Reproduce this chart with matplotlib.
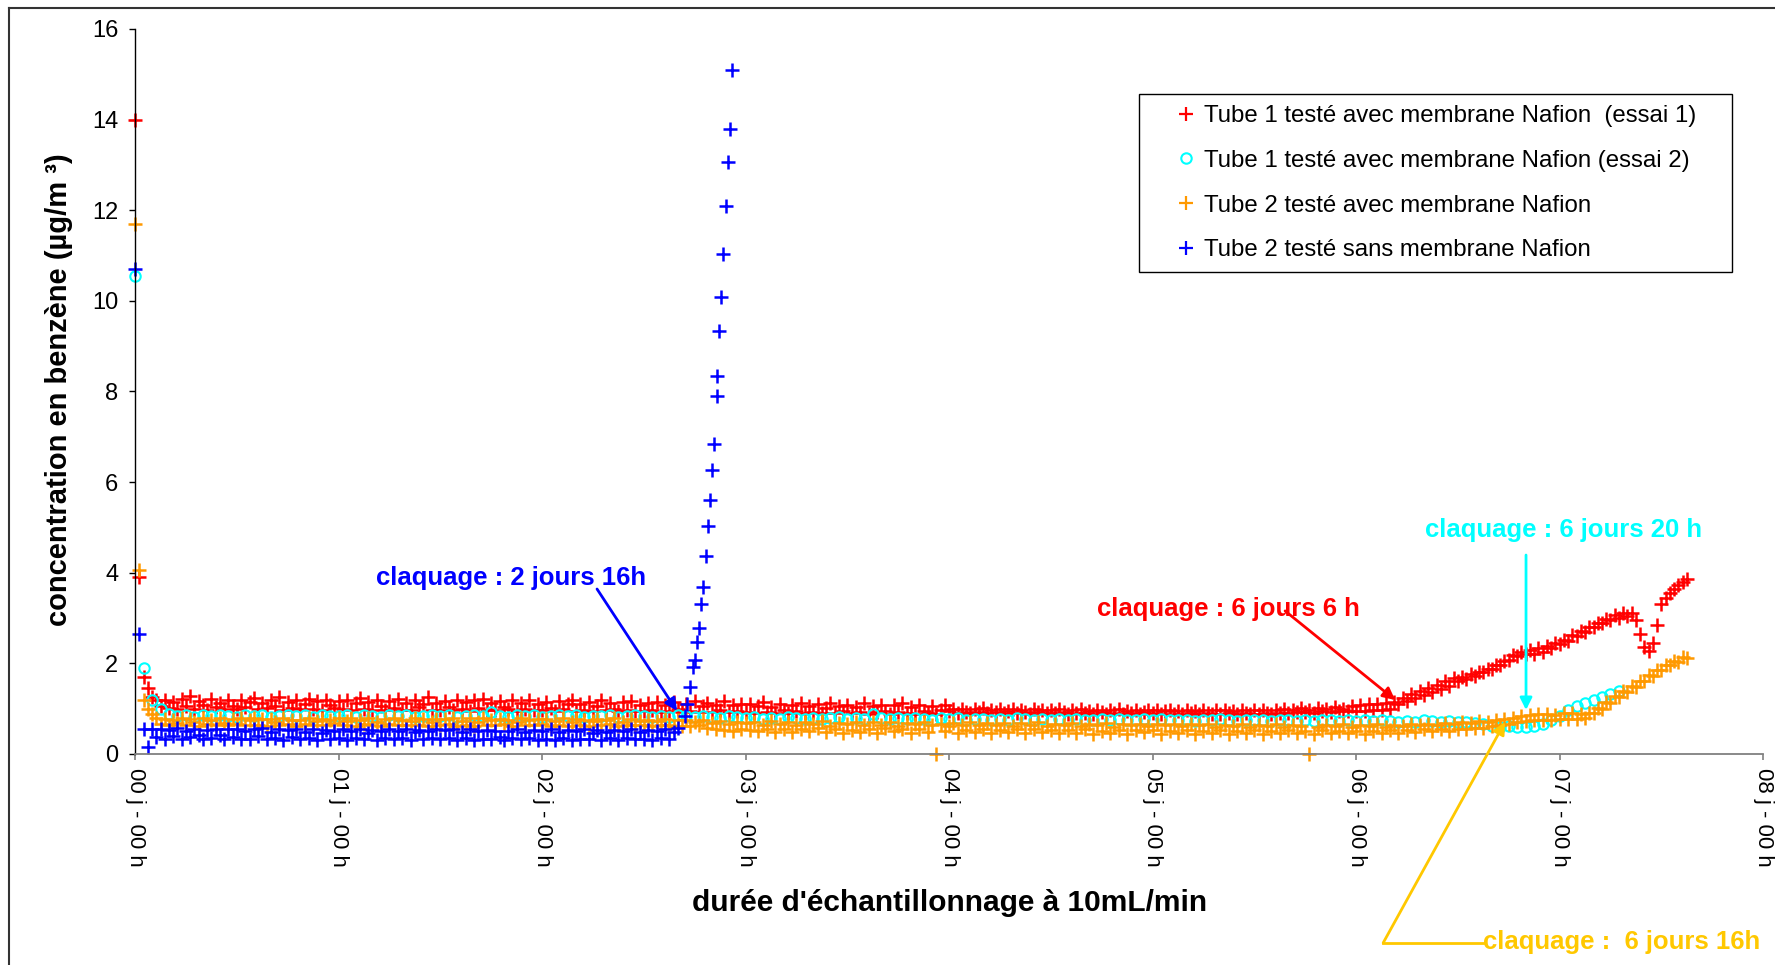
import numpy as np
import matplotlib
matplotlib.use("Agg")
import matplotlib.pyplot as plt
from matplotlib.lines import Line2D
from matplotlib.patches import Rectangle

plt.rcParams['font.family'] = ['Liberation Sans', 'DejaVu Sans']

# ---------------- data (concentration in µg/m3) ----------------
sample_step_h = 0.5        # red, orange and blue: one sample every 30 min
cyan_step_h = 1.0          # cyan (essai 2): one sample every hour

red_conc = [
    14.0, 3.9, 1.7, 1.45, 1.25, 1.18, 1.05, 1.2, 1.02, 1.15, 0.99, 1.22, 1.06, 1.28, 1.0, 1.16, 1.08, 0.98, 1.21, 1.04, 1.12, 1.0, 1.18, 1.06,
    1.0, 1.2, 1.03, 1.14, 1.24, 0.99, 1.13, 1.01, 1.19, 1.05, 1.26, 0.98, 1.15, 1.02, 1.2, 0.99, 1.11, 1.22, 1.0, 1.16, 0.98, 1.18, 1.07, 1.01,
    1.17, 0.99, 1.2, 0.97, 1.12, 1.23, 1.0, 1.15, 0.98, 1.19, 1.05, 0.96, 1.16, 1.01, 1.22, 0.98, 1.13, 0.97, 1.18, 1.03, 1.1, 1.25, 0.98, 1.12,
    0.97, 1.17, 1.04, 0.96, 1.2, 1.0, 1.14, 0.95, 1.18, 1.02, 1.22, 0.97, 1.12, 0.96, 1.17, 1.03, 0.99, 1.2, 0.95, 1.13, 1.0, 1.18, 0.97, 1.1,
    0.96, 1.15, 1.02, 0.94, 1.17, 0.99, 1.11, 1.2, 0.95, 1.1, 0.98, 1.15, 0.94, 1.06, 1.19, 0.96, 1.12, 1.0, 0.94, 1.14, 0.98, 1.17, 0.95, 1.08,
    0.94, 1.12, 0.97, 1.15, 0.93, 1.08, 0.95, 1.14, 0.99, 0.92, 1.1, 0.95, 1.16, 0.93, 1.06, 1.12, 0.92, 1.09, 0.96, 1.17, 0.93, 1.07, 0.95, 1.11,
    0.93, 1.1, 0.91, 1.05, 1.14, 0.92, 1.04, 0.9, 1.11, 0.96, 0.91, 1.08, 0.94, 1.13, 0.9, 1.05, 0.93, 1.1, 0.91, 1.02, 1.12, 0.9, 1.06, 0.95,
    1.09, 0.9, 1.03, 0.93, 1.12, 0.89, 1.05, 0.92, 1.09, 0.95, 0.89, 1.07, 0.92, 1.13, 0.9, 1.03, 0.88, 1.09, 0.94, 0.9, 1.05, 0.89, 0.97, 1.08,
    0.94, 0.99, 0.91, 1.0, 0.93, 0.9, 0.99, 0.92, 1.01, 0.9, 0.97, 0.92, 1.0, 0.9, 0.95, 0.99, 0.91, 0.98, 0.93, 0.89, 1.0, 0.92, 0.97, 0.9,
    0.98, 0.9, 0.99, 0.92, 0.89, 0.97, 0.91, 1.0, 0.9, 0.95, 0.88, 0.98, 0.92, 0.89, 0.97, 0.9, 0.99, 0.89, 0.94, 0.9, 0.98, 0.88, 0.93, 0.97,
    0.9, 0.97, 0.88, 0.94, 0.98, 0.89, 0.95, 0.88, 0.97, 0.9, 0.95, 0.88, 0.97, 0.91, 0.88, 0.96, 0.89, 0.98, 0.9, 0.94, 0.88, 0.97, 0.91, 0.89,
    0.96, 0.89, 0.98, 0.91, 0.88, 0.97, 0.91, 1.0, 0.9, 0.97, 0.92, 1.01, 0.93, 0.98, 0.91, 1.02, 0.94, 0.99, 0.92, 1.03, 0.95, 1.0, 0.94, 1.05,
    0.94, 1.08, 0.95, 1.11, 0.96, 1.1, 0.97, 1.13, 0.99, 1.15, 1.1, 1.24, 1.16, 1.32, 1.23, 1.39, 1.3, 1.46, 1.37, 1.53, 1.43, 1.6, 1.5, 1.67,
    1.6, 1.7, 1.66, 1.76, 1.73, 1.8, 1.8, 1.88, 1.88, 1.97, 1.97, 2.06, 2.07, 2.19, 2.16, 2.26, 2.2, 2.3, 2.2, 2.34, 2.26, 2.38, 2.34, 2.45,
    2.43, 2.52, 2.5, 2.62, 2.6, 2.72, 2.7, 2.8, 2.8, 2.9, 2.88, 2.98, 2.96, 3.06, 3.01, 3.1, 3.04, 3.1, 2.95, 2.65, 2.35, 2.27, 2.45, 2.85,
    3.3, 3.45, 3.55, 3.65, 3.72, 3.8, 3.86,
]

cyan_conc = [
    10.55, 1.9, 1.2, 1.0, 0.88, 0.84, 0.86, 0.82, 0.85, 0.83, 0.87, 0.84, 0.82, 0.86, 0.83, 0.85, 0.82, 0.84, 0.87, 0.83, 0.85, 0.82, 0.86, 0.84,
    0.83, 0.86, 0.82, 0.85, 0.84, 0.82, 0.87, 0.83, 0.85, 0.82, 0.84, 0.86, 0.83, 0.85, 0.82, 0.84, 0.86, 0.83, 0.92, 0.84, 0.82, 0.85, 0.83, 0.86,
    0.82, 0.84, 0.86, 0.83, 0.85, 0.82, 0.84, 0.83, 0.86, 0.82, 0.84, 0.85, 0.83, 0.81, 0.84, 0.82, 0.85, 0.83, 0.81, 0.84, 0.82, 0.8, 0.83, 0.81,
    0.79, 0.82, 0.78, 0.8, 0.77, 0.81, 0.79, 0.78, 0.8, 0.77, 0.79, 0.81, 0.78, 0.8, 0.77, 0.88, 0.79, 0.78, 0.8, 0.77, 0.79, 0.78, 0.76, 0.79,
    0.77, 0.79, 0.76, 0.78, 0.77, 0.75, 0.78, 0.76, 0.79, 0.77, 0.75, 0.78, 0.76, 0.77, 0.75, 0.78, 0.76, 0.74, 0.77, 0.75, 0.78, 0.76, 0.74, 0.77,
    0.75, 0.77, 0.74, 0.76, 0.75, 0.73, 0.76, 0.74, 0.77, 0.75, 0.73, 0.76, 0.74, 0.75, 0.73, 0.76, 0.74, 0.72, 0.75, 0.73, 0.76, 0.74, 0.72, 0.74,
    0.73, 0.75, 0.72, 0.74, 0.72, 0.7, 0.73, 0.71, 0.74, 0.72, 0.7, 0.72, 0.7, 0.71, 0.69, 0.66, 0.62, 0.6, 0.61, 0.59, 0.6, 0.62, 0.66, 0.74,
    0.84, 0.97, 1.05, 1.12, 1.2, 1.26, 1.33, 1.4,
]

orange_conc = [
    11.7, 4.05, 1.2, 1.0, 0.88, 0.8, 0.66, 0.78, 0.63, 0.76, 0.68, 0.8, 0.64, 0.77, 0.7, 0.62, 0.79, 0.67, 0.75, 0.63, 0.8, 0.69, 0.65, 0.78,
    0.66, 0.79, 0.63, 0.74, 0.8, 0.65, 0.77, 0.62, 0.78, 0.7, 0.64, 0.79, 0.67, 0.76, 0.62, 0.74, 0.66, 0.8, 0.63, 0.72, 0.78, 0.64, 0.76, 0.68,
    0.79, 0.63, 0.73, 0.8, 0.62, 0.76, 0.66, 0.79, 0.64, 0.71, 0.62, 0.78, 0.67, 0.8, 0.63, 0.75, 0.65, 0.72, 0.79, 0.63, 0.77, 0.62, 0.7, 0.78,
    0.64, 0.77, 0.66, 0.8, 0.62, 0.73, 0.65, 0.79, 0.62, 0.7, 0.8, 0.64, 0.75, 0.63, 0.78, 0.67, 0.76, 0.62, 0.71, 0.79, 0.64, 0.74, 0.63, 0.77,
    0.66, 0.78, 0.62, 0.73, 0.65, 0.79, 0.61, 0.7, 0.78, 0.64, 0.75, 0.61, 0.72, 0.78, 0.63, 0.74, 0.66, 0.79, 0.62, 0.71, 0.65, 0.77, 0.63, 0.72,
    0.64, 0.76, 0.61, 0.72, 0.63, 0.78, 0.65, 0.6, 0.74, 0.62, 0.76, 0.61, 0.7, 0.64, 0.75, 0.58, 0.68, 0.55, 0.72, 0.52, 0.66, 0.5, 0.7, 0.54,
    0.68, 0.52, 0.7, 0.5, 0.64, 0.56, 0.72, 0.49, 0.66, 0.54, 0.7, 0.48, 0.63, 0.55, 0.71, 0.5, 0.66, 0.57, 0.72, 0.49, 0.62, 0.54, 0.69, 0.47,
    0.66, 0.53, 0.71, 0.48, 0.63, 0.55, 0.7, 0.47, 0.64, 0.57, 0.71, 0.5, 0.62, 0.54, 0.69, 0.46, 0.66, 0.55, 0.7, 0.49, 0.63, 0.0, 0.67, 0.51,
    0.62, 0.69, 0.47, 0.65, 0.53, 0.7, 0.49, 0.63, 0.55, 0.68, 0.46, 0.65, 0.52, 0.69, 0.48, 0.62, 0.54, 0.68, 0.46, 0.64, 0.55, 0.7, 0.48, 0.61,
    0.53, 0.67, 0.46, 0.64, 0.52, 0.68, 0.47, 0.62, 0.54, 0.67, 0.45, 0.64, 0.51, 0.68, 0.47, 0.6, 0.53, 0.67, 0.45, 0.63, 0.52, 0.66, 0.48, 0.61,
    0.53, 0.66, 0.45, 0.63, 0.51, 0.67, 0.46, 0.61, 0.53, 0.66, 0.44, 0.63, 0.51, 0.67, 0.46, 0.6, 0.53, 0.65, 0.44, 0.62, 0.51, 0.66, 0.47, 0.6,
    0.52, 0.65, 0.45, 0.62, 0.5, 0.66, 0.46, 0.6, 0.52, 0.65, 0.47, 0.62, 0.5, 0.0, 0.45, 0.6, 0.52, 0.65, 0.46, 0.62, 0.5, 0.66, 0.47, 0.6,
    0.51, 0.65, 0.45, 0.62, 0.5, 0.66, 0.46, 0.6, 0.53, 0.65, 0.47, 0.62, 0.52, 0.67, 0.48, 0.63, 0.54, 0.67, 0.5, 0.64, 0.55, 0.68, 0.51, 0.66,
    0.56, 0.7, 0.55, 0.69, 0.58, 0.72, 0.57, 0.71, 0.61, 0.74, 0.63, 0.77, 0.66, 0.8, 0.7, 0.83, 0.72, 0.86, 0.74, 0.88, 0.76, 0.89, 0.75, 0.87,
    0.78, 0.9, 0.77, 0.9, 0.78, 0.89, 0.8, 0.9, 0.9, 1.02, 1.0, 1.15, 1.13, 1.27, 1.25, 1.38, 1.36, 1.5, 1.48, 1.62, 1.6, 1.74, 1.72, 1.86,
    1.85, 1.97, 1.96, 2.06, 2.04, 2.14, 2.12,
]

blue_conc = [
    10.7, 2.65, 0.55, 0.15, 0.55, 0.38, 0.56, 0.34, 0.52, 0.4, 0.57, 0.33, 0.5, 0.37, 0.56, 0.42, 0.32, 0.53, 0.36, 0.55, 0.41, 0.33, 0.54, 0.38,
    0.55, 0.34, 0.5, 0.32, 0.54, 0.4, 0.57, 0.33, 0.49, 0.36, 0.55, 0.31, 0.52, 0.38, 0.56, 0.33, 0.48, 0.35, 0.54, 0.31, 0.46, 0.53, 0.34, 0.51,
    0.36, 0.54, 0.31, 0.5, 0.35, 0.55, 0.32, 0.47, 0.53, 0.3, 0.5, 0.36, 0.56, 0.32, 0.51, 0.35, 0.54, 0.31, 0.48, 0.53, 0.33, 0.5, 0.36, 0.55,
    0.32, 0.52, 0.35, 0.54, 0.3, 0.48, 0.36, 0.55, 0.31, 0.5, 0.34, 0.53, 0.32, 0.51, 0.37, 0.3, 0.5, 0.35, 0.54, 0.32, 0.48, 0.36, 0.53, 0.31,
    0.5, 0.34, 0.54, 0.31, 0.48, 0.36, 0.53, 0.3, 0.5, 0.33, 0.54, 0.32, 0.47, 0.52, 0.31, 0.49, 0.35, 0.53, 0.3, 0.5, 0.36, 0.54, 0.32, 0.48,
    0.34, 0.53, 0.31, 0.5, 0.36, 0.54, 0.32, 0.48, 0.58,
]

# blue breakthrough (individual samples)
blue_peak_days = [2.703, 2.714, 2.727, 2.743, 2.752, 2.760, 2.771, 2.781, 2.793, 2.804, 2.814, 2.826,
                  2.837, 2.847, 2.858, 2.858, 2.870, 2.880, 2.891, 2.903, 2.913, 2.924, 2.934]
blue_peak_conc = [0.83, 1.1, 1.47, 1.93, 2.08, 2.46, 2.77, 3.3, 3.69, 4.36, 5.02, 5.6,
                  6.26, 6.83, 7.91, 8.35, 9.34, 10.08, 11.04, 12.1, 13.07, 13.8, 15.09]

series_labels = ["Tube 1 testé avec membrane Nafion  (essai 1)",
                 "Tube 1 testé avec membrane Nafion (essai 2)",
                 "Tube 2 testé avec membrane Nafion",
                 "Tube 2 testé sans membrane Nafion"]
x_tick_days = list(range(0, 9))
x_tick_labels = [f"{d:02d} j - 00 h" for d in x_tick_days]
y_ticks = list(range(0, 17, 2))

RED, CYAN, ORANGE, BLUE, GOLD = "#FF0000", "#00FFFF", "#FF9900", "#0000FF", "#FFC800"


def days_of(values, step_h=sample_step_h):
    return np.arange(len(values)) * step_h / 24.0


# ---------------- figure ----------------
fig = plt.figure(figsize=(17.75, 9.65), dpi=100)
ax = fig.add_axes([0.0761, 0.2187, 0.9172, 0.7513])

plus_kw = dict(linestyle="none", marker="+", markersize=9.5, markeredgewidth=1.8, clip_on=False)
ax.plot(days_of(red_conc), red_conc, color=RED, **plus_kw)
ax.plot(days_of(cyan_conc, cyan_step_h), cyan_conc, linestyle="none", marker="o", markersize=7.5,
        markerfacecolor="none", markeredgecolor=CYAN, markeredgewidth=1.5, clip_on=False)
ax.plot(days_of(orange_conc), orange_conc, color=ORANGE, **plus_kw)
ax.plot(days_of(blue_conc), blue_conc, color=BLUE, **plus_kw)
ax.plot(blue_peak_days, blue_peak_conc, color=BLUE, **plus_kw)

ax.set_xlim(0, 8)
ax.set_ylim(0, 16)
ax.set_xticks(x_tick_days)
ax.set_xticklabels(x_tick_labels, rotation=-90, ha="center", va="top", fontsize=16)
ax.set_yticks(y_ticks)
ax.tick_params(axis="y", labelsize=17, length=4, width=1, pad=8, direction="out", color="#000000")
ax.tick_params(axis="x", length=4, width=1.2, pad=6, direction="out", color="#808080")
for s in ("top", "right"):
    ax.spines[s].set_visible(False)
ax.spines["left"].set_color("#000000")
ax.spines["left"].set_linewidth(1.0)
ax.spines["bottom"].set_color("#808080")
ax.spines["bottom"].set_linewidth(1.3)

ax.set_xlabel("durée d'échantillonnage à 10mL/min", fontsize=21.5, fontweight="bold")
ax.xaxis.set_label_coords(0.5, -0.2055)
ax.xaxis.label.set_va("center")
ax.set_ylabel("concentration en benzène (µg/m ³)", fontsize=21, fontweight="bold")
ax.yaxis.set_label_coords(-0.0467, 0.502)
ax.yaxis.label.set_va("center")

# ---------------- annotations ----------------
ann_font = dict(fontsize=18.5, fontweight="bold")
arrow = lambda c: dict(arrowstyle="-|>", color=c, lw=2, mutation_scale=18, shrinkA=0, shrinkB=0)

ax.text(1.848, 3.885, "claquage : 2 jours 16h", color=BLUE, ha="center", va="center", **ann_font)
ax.annotate("", xy=(2.663, 0.95), xytext=(2.27, 3.64), arrowprops=arrow(BLUE))

ax.text(5.371, 3.2, "claquage : 6 jours 6 h", color=RED, ha="center", va="center", **ann_font)
ax.annotate("", xy=(6.192, 1.19), xytext=(5.651, 3.157), arrowprops=arrow(RED))

ax.text(7.02, 4.945, "claquage : 6 jours 20 h", color=CYAN, ha="center", va="center", **ann_font)
ax.annotate("", xy=(6.835, 0.97), xytext=(6.835, 4.39), arrowprops=arrow(CYAN))

ax.text(6.624, -4.15, "claquage :  6 jours 16h", color=GOLD, ha="left", va="center",
        clip_on=False, **ann_font)
ax.plot([6.624, 6.133], [-4.17, -4.17], color=GOLD, lw=2, clip_on=False)
ax.annotate("", xy=(6.732, 0.706), xytext=(6.133, -4.17), arrowprops=arrow(GOLD),
            annotation_clip=False)

# ---------------- legend ----------------
handles = [
    Line2D([], [], linestyle="none", marker="+", color=RED, markersize=9.5, markeredgewidth=1.6),
    Line2D([], [], linestyle="none", marker="o", markerfacecolor="none", markeredgecolor=CYAN,
           markersize=7.5, markeredgewidth=1.5),
    Line2D([], [], linestyle="none", marker="+", color=ORANGE, markersize=9.5, markeredgewidth=1.6),
    Line2D([], [], linestyle="none", marker="+", color=BLUE, markersize=9.5, markeredgewidth=1.6),
]
leg = fig.legend(handles, series_labels, loc="upper left", bbox_to_anchor=(0.6614, 0.8912),
                 frameon=False, fontsize=17.3, borderpad=0, handlelength=1.0, handletextpad=0.25,
                 labelspacing=0.95, borderaxespad=0)
fig.patches.append(Rectangle((0.6417, 0.7181), 0.3341, 0.1845, transform=fig.transFigure,
                             fill=False, edgecolor="#000000", linewidth=1.0))

# outer frame of the picture (left and top edges visible)
fig.add_artist(Line2D([0.0049, 0.0049], [0.0, 0.9922], transform=fig.transFigure,
                      color="#333333", lw=1.5))
fig.add_artist(Line2D([0.0049, 1.0], [0.9922, 0.9922], transform=fig.transFigure,
                      color="#333333", lw=1.5))

fig.savefig("out.png", dpi=100)
